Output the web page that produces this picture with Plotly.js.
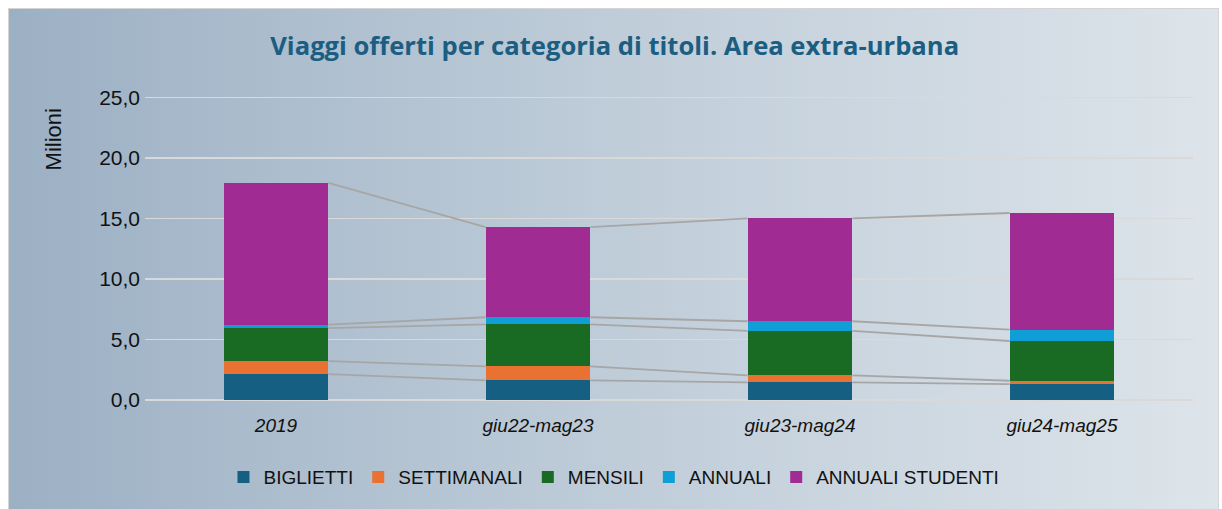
<!DOCTYPE html>
<html>
<head>
<meta charset="utf-8">
<script src="https://cdn.plot.ly/plotly-3.0.1.min.js"></script>
<style>
  html, body { margin:0; padding:0; background:#ffffff; }
  #frame { position:absolute; left:8px; top:8px; width:1211px; height:501px;
           background: linear-gradient(to right, #9cb0c4 0%, #bccad7 45%, #dde4ea 100%);
           border-left:1px solid #d4d4d4; border-top:1px solid #d4d4d4; border-right:1px solid #d4d4d4; box-sizing:border-box; }
  #chart { position:absolute; left:0; top:0; width:1222px; height:509px; }
</style>
</head>
<body>
<div id="frame"></div>
<div id="chart"></div>
<script>
const categories = ["2019", "giu22-mag23", "giu23-mag24", "giu24-mag25"];
const biglietti = [2.14, 1.62, 1.45, 1.31];
const settimanali = [1.08, 1.16, 0.58, 0.28];
const mensili = [2.73, 3.48, 3.68, 3.29];
const annuali = [0.28, 0.58, 0.80, 0.94];
const annualiStudenti = [11.72, 7.46, 8.51, 9.64];
const seriesNames = ["BIGLIETTI", "SETTIMANALI", "MENSILI", "ANNUALI", "ANNUALI STUDENTI"];
const yTicks = [0, 5, 10, 15, 20, 25];

const seriesValues = [biglietti, settimanali, mensili, annuali, annualiStudenti];
const colors = ["#156082", "#E97132", "#196B24", "#0F9ED5", "#A02B93"];
const xpos = categories.map((c, i) => i);
const barWidth = 0.4;

const traces = [];
seriesValues.forEach((vals, k) => {
  traces.push({
    type: "bar", name: seriesNames[k], x: xpos, y: vals, width: barWidth,
    marker: { color: colors[k], line: { width: 0 } },
    hoverinfo: "y+name"
  });
});

// series lines connecting segment tops
const cum = [];
let run = categories.map(() => 0);
seriesValues.forEach(vals => {
  run = run.map((r, i) => r + vals[i]);
  cum.push(run.slice());
});
cum.forEach(tops => {
  const lx = [], ly = [];
  for (let i = 0; i < categories.length - 1; i++) {
    lx.push(xpos[i] + barWidth / 2, xpos[i + 1] - barWidth / 2, null);
    ly.push(tops[i], tops[i + 1], null);
  }
  traces.push({
    type: "scatter", mode: "lines", x: lx, y: ly, showlegend: false,
    line: { color: "#a6a6a6", width: 1.8 }, hoverinfo: "skip"
  });
});

const txt = "#111111";
const layout = {
  width: 1222, height: 509,
  paper_bgcolor: "rgba(0,0,0,0)", plot_bgcolor: "rgba(0,0,0,0)",
  barmode: "stack",
  separators: ",.",
  margin: { l: 145, r: 29, t: 94, b: 109 },
  title: {
    text: "<b>Viaggi offerti per categoria di titoli. Area extra-urbana</b>",
    font: { family: "Open Sans, Roboto, sans-serif", size: 25.6, color: "#1B5E82" },
    x: 0.503, xanchor: "center", y: 0.91, yanchor: "middle"
  },
  xaxis: {
    tickvals: xpos, ticktext: categories.map(c => "<i>" + c + "</i>"),
    range: [-0.5, categories.length - 0.5],
    showgrid: false, zeroline: false, showline: false, ticks: "",
    ticklabelstandoff: 12,
    tickfont: { family: "Liberation Sans, Arial, sans-serif", size: 19, color: txt }
  },
  yaxis: {
    range: [0, 25.3], tickvals: yTicks, tickformat: ".1f",
    showgrid: true, gridcolor: "#d9d9d9", gridwidth: 1.5,
    zeroline: true, zerolinecolor: "#d9d9d9", zerolinewidth: 1.5,
    showline: false, ticks: "", ticklabelstandoff: 4,
    tickfont: { family: "Liberation Sans, Arial, sans-serif", size: 21, color: txt }
  },
  annotations: [{
    text: "Milioni", textangle: -90, xref: "paper", yref: "paper",
    x: -0.0864, y: 0.853, xanchor: "center", yanchor: "middle", showarrow: false,
    font: { family: "Liberation Sans, Arial, sans-serif", size: 22, color: txt }
  }],
  legend: {
    orientation: "h", x: 0.4475, xanchor: "center", y: -0.252, yanchor: "middle",
    traceorder: "normal",
    font: { family: "Liberation Sans, Arial, sans-serif", size: 19, color: txt },
    bgcolor: "rgba(0,0,0,0)", itemwidth: 30
  },
  showlegend: true
};

Plotly.newPlot("chart", traces, layout, { displayModeBar: false, staticPlot: true });
</script>
</body>
</html>
